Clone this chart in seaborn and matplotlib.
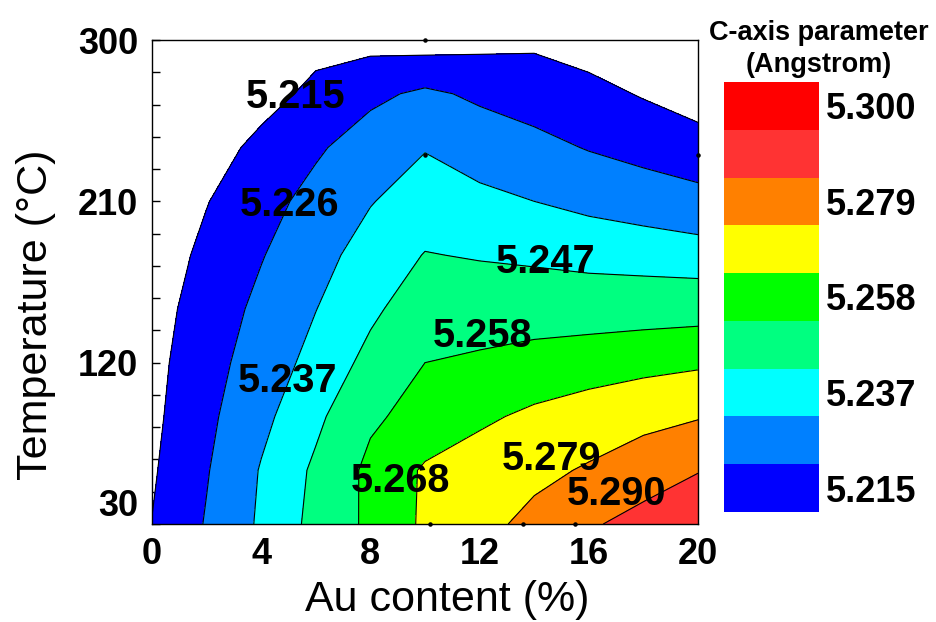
import numpy as np
import pandas as pd
import seaborn as sns
import matplotlib
matplotlib.use("Agg")
import matplotlib.pyplot as plt
from matplotlib.colors import ListedColormap

# grid
au_content = [0, 2, 4, 6, 8, 10, 12, 14, 16, 18, 20]          # %
temperature = [30, 60, 90, 120, 150, 180, 210, 240, 270, 300]  # deg C

# c-axis parameter (Angstrom), one list per temperature row
c_30 = [5.2152, 5.2268, 5.2386, 5.2500, 5.2602, 5.2696, 5.2757, 5.2820, 5.2887, 5.2936, 5.2984]
c_60 = [5.2138, 5.2253, 5.2377, 5.2488, 5.2605, 5.2692, 5.2727, 5.2763, 5.2801, 5.2849, 5.2895]
c_90 = [5.2126, 5.2236, 5.2344, 5.2448, 5.2563, 5.2618, 5.2663, 5.2699, 5.2729, 5.2758, 5.2783]
c_120 = [5.2118, 5.2219, 5.2312, 5.2403, 5.2499, 5.2580, 5.2596, 5.2615, 5.2632, 5.2649, 5.2664]
c_150 = [5.2108, 5.2198, 5.2286, 5.2368, 5.2451, 5.2526, 5.2528, 5.2534, 5.2533, 5.2536, 5.2540]
c_180 = [5.2092, 5.2174, 5.2254, 5.2335, 5.2411, 5.2474, 5.2463, 5.2452, 5.2438, 5.2428, 5.2416]
c_210 = [5.2065, 5.2146, 5.2221, 5.2295, 5.2365, 5.2417, 5.2395, 5.2370, 5.2344, 5.2321, 5.2295]
c_240 = [5.2033, 5.2106, 5.2176, 5.2245, 5.2313, 5.2365, 5.2323, 5.2291, 5.2254, 5.2223, 5.2194]
c_270 = [5.1991, 5.2051, 5.2113, 5.2174, 5.2236, 5.2280, 5.2241, 5.2211, 5.2181, 5.2142, 5.2100]
c_300 = [5.1948, 5.1980, 5.2012, 5.2118, 5.2113, 5.2099, 5.2117, 5.2130, 5.2103, 5.2065, 5.2012]

levels = [5.215, 5.226, 5.237, 5.247, 5.258, 5.268, 5.279, 5.290, 5.300]
band_colors = ["#0000ff", "#0080ff", "#00ffff", "#00ff80", "#00ff00",
               "#ffff00", "#ff8000", "#ff3333", "#ff0000"]

# measured points shown as small dots
point_x = [10, 10, 20, 10.2, 13.6, 15.5]
point_t = [300, 236, 236, 30, 30, 30]

# where the contour labels sit (x, T)
label_pos = [(5.25, 268), (5.05, 208), (4.95, 110), (14.4, 176),
             (12.1, 135), (9.1, 54), (14.65, 66), (17.0, 47)]

sns.set_style("ticks")
plt.rcParams["font.family"] = ["Liberation Sans", "DejaVu Sans"]
plt.rcParams.update({"text.color": "black", "axes.labelcolor": "black",
                     "xtick.color": "black", "ytick.color": "black"})

Z = np.array([c_30, c_60, c_90, c_120, c_150, c_180, c_210, c_240, c_270, c_300])
X, Y = np.meshgrid(au_content, temperature)

fig = plt.figure(figsize=(9.36, 6.22), dpi=100)
ax = fig.add_axes([152 / 936, 98 / 622, 546 / 936, 484 / 622])

ax.contourf(X, Y, Z, levels=levels + [5.35], colors=band_colors)
ax.contour(X, Y, Z, levels=levels, colors="black", linewidths=0.8)
ax.scatter(point_x, point_t, s=5, color="black", zorder=3, clip_on=False)

for (lx, ly), lev in zip(label_pos, levels):
    ax.text(lx, ly, "%.3f" % lev, fontsize=28.5, fontweight="bold",
            ha="center", va="center", zorder=4)

ax.set_xlim(0, 20)
ax.set_ylim(30, 300)
ax.set_xticks([0, 4, 8, 12, 16, 20])
ax.set_yticks([30, 120, 210, 300])
ax.set_yticks(np.arange(30, 301, 18), minor=True)
ax.tick_params(axis="y", which="both", direction="in", length=6, width=1,
               labelsize=26, pad=10)
ax.tick_params(axis="x", which="both", length=0, labelsize=26, pad=9)
for lab in ax.get_xticklabels() + ax.get_yticklabels():
    lab.set_fontweight("bold")
ax.get_yticklabels()[0].set_va("bottom")
for s in ax.spines.values():
    s.set_linewidth(1)
    s.set_color("black")

ax.set_xlabel("Au content (%)", fontsize=31)
ax.set_ylabel("Temperature (\u00b0C)", fontsize=31)
ax.xaxis.set_label_coords(0.54, -0.115)
ax.yaxis.set_label_coords(-0.176, 0.432)

# colour scale drawn as a one-column heatmap
cax = fig.add_axes([724 / 936, 110 / 622, 95 / 936, 430 / 622])
bands = pd.DataFrame({"band": list(range(len(levels) - 1, -1, -1))})
sns.heatmap(bands, cmap=ListedColormap(band_colors), vmin=-0.5, vmax=len(levels) - 0.5,
            cbar=False, ax=cax, xticklabels=False)
cax.set_yticks([0.5, 2.5, 4.5, 6.5, 8.5])
cax.set_yticklabels(["%.3f" % levels[i] for i in (8, 6, 4, 2, 0)],
                    rotation=0, fontsize=26, fontweight="bold")
cax.yaxis.tick_right()
cax.tick_params(axis="y", length=0, pad=5)
cax.set_ylabel("")

fig.text(819 / 936, 1 - 49 / 622, "C-axis parameter\n(Angstrom)", ha="center",
         va="center", fontsize=19.5, fontweight="bold", linespacing=1.25)

fig.savefig("out.png", dpi=100)
